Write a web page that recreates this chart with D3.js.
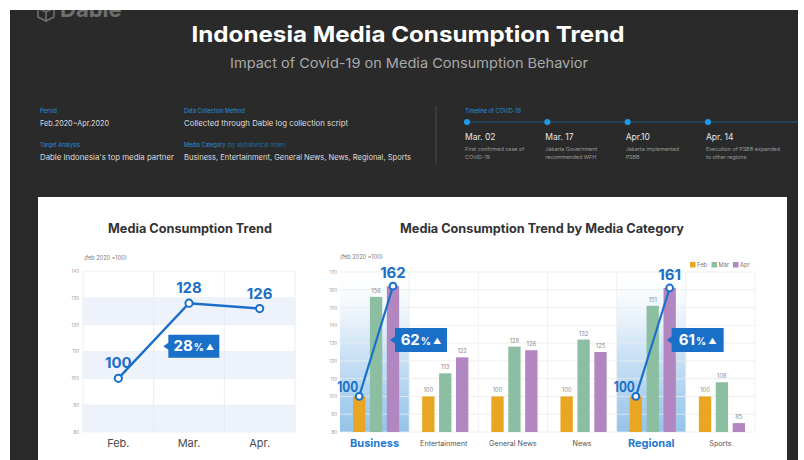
<!DOCTYPE html>
<html>
<head>
<meta charset="utf-8">
<script src="https://cdn.jsdelivr.net/npm/d3@7"></script>
<style>
  html, body { margin: 0; padding: 0; background: #ffffff; }
  svg { display: block; font-family: Inter, "Noto Sans", sans-serif; }
</style>
</head>
<body>
<svg id="chart" width="804" height="460"></svg>
<script>
// ---- data ----
const trendMonths = ["Feb.", "Mar.", "Apr."];
const trendValues = [100, 128, 126];
const trendTicks = [80, 90, 100, 110, 120, 130, 140];

const categories = ["Business", "Entertainment", "General News", "News", "Regional", "Sports"];
const months = ["Feb", "Mar", "Apr"];
const febValues = [100, 100, 100, 100, 100, 100];
const marValues = [156, 113, 128, 132, 151, 108];
const aprValues = [162, 122, 126, 125, 161, 85];
const categoryTicks = [80, 90, 100, 110, 120, 130, 140, 150, 160, 170];
const highlighted = ["Business", "Regional"];

const infoLabels = ["Period", "Data Collection Method", "Target Analysis", "Media Category"];
const infoValues = ["Feb.2020~Apr.2020", "Collected through Dable log collection script",
  "Dable Indonesia's top media partner", "Business, Entertainment, General News, News, Regional, Sports"];

const timelineDates = ["Mar. 02", "Mar. 17", "Apr.10", "Apr. 14"];
const timelineNotes = [
  ["First confirmed case of", "COVID-19"],
  ["Jakarta Government", "recommended WFH"],
  ["Jakarta implemented", "PSBB"],
  ["Execution of PSBB expanded", "to other regions"]
];

// ---- styles ----
const BLUE = "#1a6fc8";
const monthColors = ["#e8a623", "#8cbfa2", "#b286c0"];
const svg = d3.select("#chart");

// dark page background
svg.append("rect").attr("x", 10).attr("y", 0).attr("width", 788).attr("height", 460).attr("fill", "#2a2a2a");

// logo (cut at the top edge)
const logo = svg.append("g").attr("fill", "none").attr("stroke", "#6e6e6e").attr("stroke-width", 1.6);
logo.append("path").attr("d", "M38,8 L46,12 L54,8 M46,12 L46,21 M38,8 L38,17 L46,21 L54,17 L54,8");
svg.append("text").attr("x", 60).attr("y", 17).attr("fill", "#6e6e6e")
  .attr("font-size", 22).attr("font-weight", 700).text("Dable");
svg.append("rect").attr("x", 0).attr("y", 0).attr("width", 804).attr("height", 10).attr("fill", "#ffffff");

// headline
svg.append("text").attr("x", 408).attr("y", 42).attr("text-anchor", "middle")
  .attr("fill", "#ffffff").attr("font-size", 22).attr("font-weight", 700)
  .attr("textLength", 433).attr("lengthAdjust", "spacingAndGlyphs")
  .text("Indonesia Media Consumption Trend");
svg.append("text").attr("x", 409).attr("y", 68).attr("text-anchor", "middle")
  .attr("fill", "#a9a9a9").attr("font-size", 13.5)
  .attr("textLength", 358).attr("lengthAdjust", "spacingAndGlyphs")
  .text("Impact of Covid-19 on Media Consumption Behavior");

// info block
const infoPos = [[40, 113], [184, 113], [40, 147], [184, 147]];
const infoWidths = [69, 164, 134, 227];
infoLabels.forEach((lab, i) => {
  const [x, y] = infoPos[i];
  const t = svg.append("text").attr("x", x).attr("y", y).attr("fill", "#2a8fdc").attr("font-size", 5.5).text(lab);
  if (i === 3) t.append("tspan").attr("fill", "#1d6fb0").text(" (by alphabetical order)");
  svg.append("text").attr("x", x).attr("y", y + 13).attr("fill", "#dedede").attr("font-size", 7.6)
    .attr("textLength", infoWidths[i]).attr("lengthAdjust", "spacingAndGlyphs").text(infoValues[i]);
});
svg.append("line").attr("x1", 436).attr("x2", 436).attr("y1", 106).attr("y2", 163)
  .attr("stroke", "#4a4a4a").attr("stroke-width", 1);

// timeline
svg.append("text").attr("x", 465).attr("y", 113).attr("fill", "#2a8fdc").attr("font-size", 5.5).text("Timeline of COVID-19");
svg.append("line").attr("x1", 467).attr("x2", 798).attr("y1", 122).attr("y2", 122)
  .attr("stroke", "#23597f").attr("stroke-width", 1);
const tlX = d3.scalePoint().domain(timelineDates).range([467, 708]);
timelineDates.forEach((d, i) => {
  const x = tlX(d);
  svg.append("circle").attr("cx", x).attr("cy", 122).attr("r", 3).attr("fill", "#1e9be8");
  svg.append("text").attr("x", x - 2).attr("y", 140).attr("fill", "#e6e6e6").attr("font-size", 8.5).text(d);
  timelineNotes[i].forEach((line, j) => {
    svg.append("text").attr("x", x - 2).attr("y", 151 + j * 8).attr("fill", "#9a9a9a")
      .attr("font-size", 5.4).text(line);
  });
});

// white card
svg.append("rect").attr("x", 38).attr("y", 197).attr("width", 749).attr("height", 270).attr("fill", "#ffffff");

// badge with a left-pointing tip
function badge(g, x, y, w, h, label) {
  const tipY = y + h / 2;
  g.append("path")
    .attr("d", `M${x},${y} H${x + w} V${y + h} H${x} V${tipY + 3.5} L${x - 5},${tipY} L${x},${tipY - 3.5} Z`)
    .attr("fill", BLUE);
  const t = g.append("text").attr("x", x + w / 2).attr("y", y + h / 2 + 5).attr("text-anchor", "middle")
    .attr("fill", "#ffffff").attr("font-weight", 700).attr("font-size", 15).text(label);
  t.append("tspan").attr("font-size", 10).attr("dx", 1).text("%");
  t.append("tspan").attr("font-size", 8).attr("dx", 2).attr("dy", -1).text("▲");
}

// ================= left chart: overall trend =================
{
  const g = svg.append("g");
  const x = d3.scaleBand().domain(trendMonths).range([83, 295]);
  const y = d3.scaleLinear().domain([80, 140]).range([432, 271]);

  g.append("text").attr("x", 190).attr("y", 233).attr("text-anchor", "middle")
    .attr("fill", "#333").attr("font-size", 12.5).attr("font-weight", 700)
    .attr("textLength", 164).attr("lengthAdjust", "spacingAndGlyphs").text("Media Consumption Trend");
  g.append("text").attr("x", 84).attr("y", 260).attr("fill", "#777").attr("font-size", 5.6).text("(feb 2020 =100)");

  // alternating bands
  for (let i = 0; i < trendTicks.length - 1; i++) {
    const lo = trendTicks[i], hi = trendTicks[i + 1];
    g.append("rect").attr("x", 83).attr("width", 212).attr("y", y(hi)).attr("height", y(lo) - y(hi))
      .attr("fill", i % 2 === 0 ? "#eef3fb" : "#ffffff");
  }
  // grid
  g.append("g").selectAll("line").data(trendTicks).join("line")
    .attr("x1", 83).attr("x2", 295).attr("y1", d => y(d)).attr("y2", d => y(d))
    .attr("stroke", "#e8edf4").attr("stroke-width", 0.8);
  const edges = [83, ...trendMonths.slice(1).map(m => x(m)), 295];
  g.append("g").selectAll("line").data(edges).join("line")
    .attr("x1", d => d).attr("x2", d => d).attr("y1", 271).attr("y2", 432)
    .attr("stroke", "#e3e8ef").attr("stroke-width", 0.8);

  // axes
  const ya = g.append("g").attr("transform", "translate(79,0)")
    .call(d3.axisLeft(y).tickValues(trendTicks).tickSize(0).tickPadding(0));
  ya.select(".domain").remove();
  ya.selectAll("text").attr("fill", "#9a9a9a").attr("font-size", 4.5).attr("font-family", "Inter, sans-serif");
  const xa = g.append("g").attr("transform", "translate(0,432)")
    .call(d3.axisBottom(x).tickSize(0).tickPadding(7));
  xa.select(".domain").remove();
  xa.selectAll("text").attr("fill", "#4a4a4a").attr("font-size", 11).attr("font-family", "Inter, sans-serif");

  // line
  const cx = (m) => x(m) + x.bandwidth() / 2;
  const pts = trendMonths.map((m, i) => [cx(m), y(trendValues[i])]);
  g.append("path").attr("d", d3.line()(pts)).attr("fill", "none").attr("stroke", BLUE).attr("stroke-width", 2.4);
  g.selectAll("circle.pt").data(pts).join("circle")
    .attr("cx", d => d[0]).attr("cy", d => d[1]).attr("r", 3.6)
    .attr("fill", "#fff").attr("stroke", BLUE).attr("stroke-width", 2);
  trendValues.forEach((v, i) => {
    g.append("text").attr("x", pts[i][0]).attr("y", pts[i][1] - 10).attr("text-anchor", "middle")
      .attr("fill", BLUE).attr("font-size", 15).attr("font-weight", 700).text(v);
  });
  const growth = trendValues[1] - trendValues[0];
  const midY = (pts[0][1] + pts[1][1]) / 2;
  badge(g, pts[0][0] + 50, midY - 6, 51, 23, growth);
}

// ================= right chart: by category =================
{
  const g = svg.append("g");
  const x0 = d3.scaleBand().domain(categories).range([340, 755]);
  const x1 = d3.scaleBand().domain(months).range([13, x0.bandwidth() - 10]).paddingInner(0.27);
  const y = d3.scaleLinear().domain([80, 170]).range([432, 272]);
  const series = [febValues, marValues, aprValues];

  g.append("text").attr("x", 542).attr("y", 233).attr("text-anchor", "middle")
    .attr("fill", "#333").attr("font-size", 12.5).attr("font-weight", 700)
    .attr("textLength", 284).attr("lengthAdjust", "spacingAndGlyphs").text("Media Consumption Trend by Media Category");
  g.append("text").attr("x", 340).attr("y", 259).attr("fill", "#777").attr("font-size", 5.6).text("(feb 2020 =100)");

  // highlight gradient for featured categories
  const grad = svg.append("defs").append("linearGradient").attr("id", "hl").attr("x1", 0).attr("x2", 0).attr("y1", 0).attr("y2", 1);
  grad.append("stop").attr("offset", "0%").attr("stop-color", "#ffffff").attr("stop-opacity", 0);
  grad.append("stop").attr("offset", "45%").attr("stop-color", "#d7e8f7");
  grad.append("stop").attr("offset", "100%").attr("stop-color", "#94c3ea");
  highlighted.forEach(c => {
    g.append("rect").attr("x", x0(c)).attr("width", x0.bandwidth()).attr("y", 262).attr("height", 432 - 262)
      .attr("fill", "url(#hl)");
  });

  // grid
  g.append("g").selectAll("line").data(categoryTicks).join("line")
    .attr("x1", 340).attr("x2", 755).attr("y1", d => y(d)).attr("y2", d => y(d))
    .attr("stroke", "#ebebeb").attr("stroke-width", 0.8);
  const edges = [...categories.slice(1).map(c => x0(c)), 755];
  g.append("g").selectAll("line").data(edges).join("line")
    .attr("x1", d => d).attr("x2", d => d).attr("y1", 272).attr("y2", 432)
    .attr("stroke", "#eeeeee").attr("stroke-width", 0.8);

  const ya = g.append("g").attr("transform", "translate(337,0)")
    .call(d3.axisLeft(y).tickValues(categoryTicks).tickSize(0).tickPadding(0));
  ya.select(".domain").remove();
  ya.selectAll("text").attr("fill", "#9a9a9a").attr("font-size", 4.5).attr("font-family", "Inter, sans-serif");

  // bars
  categories.forEach((c, ci) => {
    const isHl = highlighted.includes(c);
    months.forEach((m, mi) => {
      const v = series[mi][ci];
      const bx = x0(c) + x1(m);
      g.append("rect").attr("x", bx).attr("width", x1.bandwidth())
        .attr("y", y(v)).attr("height", y(80) - y(v)).attr("fill", monthColors[mi]);
      if (!isHl || mi === 1) {
        g.append("text").attr("x", bx + x1.bandwidth() / 2).attr("y", y(v) - 4).attr("text-anchor", "middle")
          .attr("fill", "#8a8a8a").attr("font-size", 5.8).text(v);
      }
    });
    // category label
    g.append("text").attr("x", x0(c) + x0.bandwidth() / 2).attr("y", isHl ? 447 : 446)
      .attr("text-anchor", "middle")
      .attr("fill", isHl ? "#1e78d0" : "#555")
      .attr("font-size", isHl ? 11 : 7.2).attr("font-weight", isHl ? 700 : 400).text(c);

    if (isHl) {
      const pa = [x0(c) + x1("Feb") + x1.bandwidth() / 2, y(febValues[ci])];
      const pb = [x0(c) + x1("Apr") + x1.bandwidth() / 2, y(aprValues[ci])];
      g.append("path").attr("d", d3.line()([pa, pb])).attr("fill", "none").attr("stroke", BLUE).attr("stroke-width", 2.2);
      g.append("text").attr("x", pa[0] - 1).attr("y", pa[1] - 4).attr("text-anchor", "end")
        .attr("fill", BLUE).attr("font-size", 14).attr("font-weight", 700)
        .attr("textLength", 21).attr("lengthAdjust", "spacingAndGlyphs").text(febValues[ci]);
      [pa, pb].forEach(p => g.append("circle").attr("cx", p[0]).attr("cy", p[1]).attr("r", 3.4)
        .attr("fill", "#fff").attr("stroke", BLUE).attr("stroke-width", 2));
      g.append("text").attr("x", pb[0]).attr("y", pb[1] - 8).attr("text-anchor", "middle")
        .attr("fill", BLUE).attr("font-size", 15).attr("font-weight", 700).text(aprValues[ci]);
      badge(g, pb[0] + 2, y(131.7) - 12, 52, 24, aprValues[ci] - febValues[ci]);
    }
  });

  // legend
  const lg = g.append("g").attr("transform", "translate(690,265)");
  months.forEach((m, i) => {
    const lx = i * 21.5;
    lg.append("rect").attr("x", lx).attr("y", -3).attr("width", 5.5).attr("height", 5.5).attr("fill", monthColors[i]);
    lg.append("text").attr("x", lx + 7).attr("y", 2.2).attr("fill", "#777").attr("font-size", 5.8).text(m);
  });
}
</script>
</body>
</html>
